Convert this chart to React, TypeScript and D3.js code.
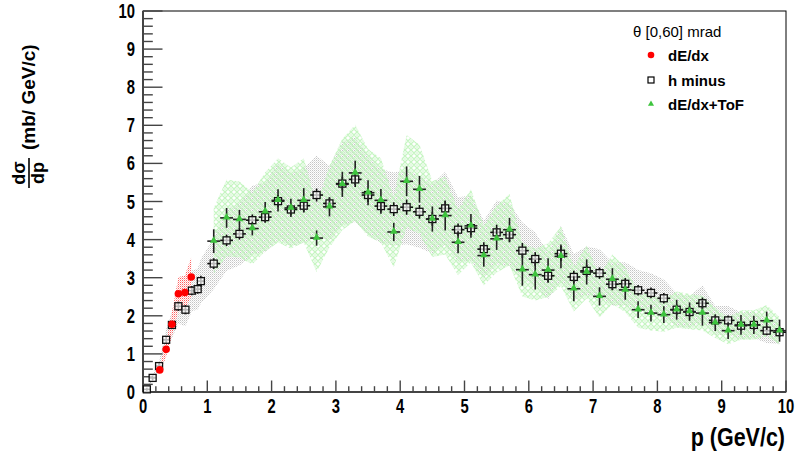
import React from "react";
import * as d3 from "d3";

// h minus (open squares)
const pHm = [0.06, 0.15, 0.25, 0.36, 0.45, 0.55, 0.66, 0.76, 0.85, 0.9,
  1.1, 1.3, 1.5, 1.7, 1.9, 2.1, 2.3, 2.5, 2.7, 2.9, 3.1, 3.3, 3.5, 3.7, 3.9,
  4.1, 4.3, 4.5, 4.7, 4.9, 5.1, 5.3, 5.5, 5.7, 5.9, 6.1, 6.3, 6.5, 6.7, 6.9,
  7.1, 7.3, 7.5, 7.7, 7.9, 8.1, 8.3, 8.5, 8.7, 8.9, 9.1, 9.3, 9.5, 9.7, 9.9];
const hm = [0.07, 0.37, 0.68, 1.37, 1.76, 2.25, 2.16, 2.66, 2.7, 2.91,
  3.37, 3.98, 4.15, 4.51, 4.59, 5.01, 4.79, 4.89, 5.17, 4.95, 5.47, 5.58, 5.17, 4.88, 4.8,
  4.85, 4.73, 4.54, 4.82, 4.26, 4.3, 3.75, 4.19, 4.13, 3.71, 3.49, 3.05, 3.63, 3.02, 3.18,
  3.12, 2.83, 2.84, 2.67, 2.6, 2.46, 2.16, 2.1, 2.33, 1.88, 1.88, 1.74, 1.76, 1.61, 1.57];
const hmErr = [0.04, 0.06, 0.08, 0.1, 0.1, 0.12, 0.12, 0.12, 0.12, 0.14,
  0.14, 0.15, 0.15, 0.15, 0.15, 0.16, 0.15, 0.16, 0.17, 0.16, 0.18, 0.2, 0.18, 0.2, 0.18,
  0.2, 0.18, 0.18, 0.2, 0.16, 0.18, 0.18, 0.2, 0.2, 0.2, 0.18, 0.18, 0.2, 0.16, 0.16,
  0.15, 0.15, 0.15, 0.14, 0.14, 0.14, 0.14, 0.14, 0.15, 0.13, 0.13, 0.13, 0.13, 0.12, 0.12];
const hmSys = 0.2;

// dE/dx (red circles)
const pDedx = [0.26, 0.36, 0.45, 0.55, 0.65, 0.75];
const dedx = [0.58, 1.12, 1.78, 2.58, 2.61, 3.02];
const dedxSys = 0.17;

// dE/dx+ToF (green triangles)
const pTof = [1.1, 1.3, 1.5, 1.7, 1.9, 2.1, 2.3, 2.5, 2.7, 2.9, 3.1, 3.3, 3.5, 3.7, 3.9,
  4.1, 4.3, 4.5, 4.7, 4.9, 5.1, 5.3, 5.5, 5.7, 5.9, 6.1, 6.3, 6.5, 6.7, 6.9,
  7.1, 7.3, 7.5, 7.7, 7.9, 8.1, 8.3, 8.5, 8.7, 8.9, 9.1, 9.3, 9.5, 9.7, 9.9];
const tof = [3.96, 4.57, 4.53, 4.29, 4.73, 5.03, 4.83, 5.03, 4.04, 4.86, 5.45, 5.75, 5.23, 5.03, 4.2,
  5.53, 5.32, 4.54, 4.63, 3.93, 4.36, 3.58, 4.02, 4.26, 3.21, 3.08, 3.2, 3.56, 2.71, 3.15,
  2.51, 2.96, 2.68, 2.16, 2.07, 2.03, 2.16, 2.11, 2.07, 1.82, 1.61, 1.76, 1.76, 1.87, 1.61];
const tofErr = [0.31, 0.26, 0.25, 0.18, 0.26, 0.29, 0.24, 0.32, 0.2, 0.25, 0.33, 0.32, 0.33, 0.3, 0.24,
  0.39, 0.35, 0.33, 0.39, 0.29, 0.31, 0.29, 0.29, 0.31, 0.42, 0.39, 0.31, 0.31, 0.33, 0.33,
  0.24, 0.29, 0.26, 0.22, 0.22, 0.22, 0.26, 0.24, 0.33, 0.22, 0.22, 0.26, 0.24, 0.24, 0.29];
const tofSys = 0.22;

const xTicks = [0, 1, 2, 3, 4, 5, 6, 7, 8, 9, 10];
const yTicks = [0, 1, 2, 3, 4, 5, 6, 7, 8, 9, 10];

const W = 804, H = 468;
const x = d3.scaleLinear().domain([0, 10]).range([143, 786]);
const y = d3.scaleLinear().domain([0, 10]).range([392, 11]);

const FONT = "'Liberation Sans', Arial, Helvetica, sans-serif";

function band(ps: number[], vs: number[], rel: number) {
  const pts = ps.map((p, i) => ({ p, v: vs[i] }));
  const area = d3.area<{ p: number; v: number }>()
    .x(d => x(d.p))
    .y0(d => y(d.v * (1 - rel)))
    .y1(d => y(d.v * (1 + rel)));
  return area(pts) || "";
}

function halfBin(p: number) {
  return p < 1 ? 0.05 : 0.1;
}

export default function App() {
  const xMinor = d3.range(0, 10.001, 0.2);
  const yMinor = d3.range(0, 10.001, 0.2);
  const tri = d3.symbol().type(d3.symbolTriangle).size(26)() || "";
  const triLeg = d3.symbol().type(d3.symbolTriangle).size(16)() || "";
  return (
    <svg width={W} height={H} style={{ position: "absolute", left: 0, top: 0, background: "#fff" }}
      fontFamily={FONT}>
      <defs>
        <pattern id="gray" width="2" height="2" patternUnits="userSpaceOnUse">
          <rect x="0" y="0" width="1" height="1" fill="#c4c4c4" />
          <rect x="1" y="1" width="1" height="1" fill="#e2e2e2" />
        </pattern>
        <pattern id="green" width="6" height="6" patternUnits="userSpaceOnUse">
          <path d="M0,3 L3,0 L6,3 L3,6 Z" stroke="#c6f5c2" strokeWidth="1.3" fill="none" />
          <rect x="2.2" y="2.2" width="1.6" height="1.6" fill="#d6f8d4" />
        </pattern>
        <pattern id="red" width="2" height="2" patternUnits="userSpaceOnUse">
          <rect x="0" y="0" width="1" height="1" fill="#ff6060" />
          <rect x="1" y="1" width="1" height="1" fill="#ffc0c0" />
        </pattern>
      </defs>

      {/* bands */}
      <path d={band(pHm, hm, hmSys)} fill="url(#gray)" />
      <path d={band(pTof, tof, tofSys)} fill="url(#green)" />
      <path d={band(pDedx, dedx, dedxSys)} fill="url(#red)" />

      {/* frame */}
      <rect x={x(0)} y={y(10)} width={x(10) - x(0)} height={y(0) - y(10)} fill="none" stroke="#000" strokeWidth={1} />

      {/* x axis */}
      <line x1={x(0)} x2={x(10)} y1={y(0)} y2={y(0)} stroke="#444" strokeWidth={2} />
      {xMinor.map((t, i) => (
        <line key={"xm" + i} x1={x(t)} x2={x(t)} y1={y(0)} y2={y(0) - (i % 5 === 0 ? 11.5 : 5.8)}
          stroke="#444" strokeWidth={1.4} />
      ))}
      {xTicks.map(t => (
        <g key={"xl" + t} transform={`translate(${x(t)},413) scale(0.74,1)`}>
          <text textAnchor="middle" fontSize={20} fontWeight="bold">{t}</text>
        </g>
      ))}

      {/* y axis */}
      <line x1={x(0)} x2={x(0)} y1={y(0)} y2={y(10)} stroke="#444" strokeWidth={2} />
      {yMinor.map((t, i) => (
        <line key={"ym" + i} x1={x(0)} x2={x(0) + (i % 5 === 0 ? 19.5 : 9.8)} y1={y(t)} y2={y(t)}
          stroke="#444" strokeWidth={1.4} />
      ))}
      {yTicks.map(t => (
        <g key={"yl" + t} transform={`translate(135,${y(t) + 7}) scale(0.74,1)`}>
          <text textAnchor="end" fontSize={20} fontWeight="bold">{t}</text>
        </g>
      ))}

      {/* h minus */}
      {pHm.map((p, i) => (
        <g key={"hm" + i} stroke="#111" strokeWidth={1.6}>
          <line x1={x(p - halfBin(p))} x2={x(p + halfBin(p))} y1={y(hm[i])} y2={y(hm[i])} />
          <line x1={x(p)} x2={x(p)} y1={y(hm[i] - hmErr[i])} y2={y(hm[i] + hmErr[i])} />
          <rect x={x(p) - 3.5} y={y(hm[i]) - 3.5} width={7} height={7} fill="#fff" fillOpacity={0.7} strokeWidth={1.3} />
        </g>
      ))}

      {/* dE/dx+ToF */}
      {pTof.map((p, i) => (
        <g key={"tf" + i}>
          <line x1={x(p - 0.1)} x2={x(p + 0.1)} y1={y(tof[i])} y2={y(tof[i])} stroke="#222" strokeWidth={1.6} />
          <line x1={x(p)} x2={x(p)} y1={y(tof[i] - tofErr[i])} y2={y(tof[i] + tofErr[i])} stroke="#222" strokeWidth={1.6} />
          <path d={tri} transform={`translate(${x(p)},${y(tof[i]) - 0.5})`} fill="#3ec43e" />
        </g>
      ))}

      {/* dE/dx */}
      {pDedx.map((p, i) => (
        <circle key={"dd" + i} cx={x(p)} cy={y(dedx[i])} r={3.8} fill="#ff0000" />
      ))}

      {/* legend */}
      <text x={633} y={37} fontSize={15}>θ [0,60] mrad</text>
      <circle cx={651} cy={55} r={3.3} fill="#ff0000" />
      <text x={668} y={61} fontSize={15} fontWeight="bold">dE/dx</text>
      <rect x={648} y={77} width={6} height={6} fill="none" stroke="#000" strokeWidth={1.2} />
      <text x={668} y={86} fontSize={15} fontWeight="bold">h minus</text>
      <path d={triLeg} transform={`translate(651,104)`} fill="#3ec43e" />
      <text x={668} y={110} fontSize={15} fontWeight="bold">dE/dx+ToF</text>

      {/* x title */}
      <g transform="translate(785,446) scale(0.86,1)">
        <text textAnchor="end" fontSize={25} fontWeight="bold">p (GeV/c)</text>
      </g>

      {/* y title */}
      <g transform="translate(29,192) rotate(-90)" fontWeight="bold">
        <text x={19} y={-4} textAnchor="middle" fontSize={18}>dσ</text>
        <line x1={4} x2={34} y1={0} y2={0} stroke="#000" strokeWidth={1.6} />
        <text x={19} y={15} textAnchor="middle" fontSize={18}>dp</text>
        <text x={42} y={6} fontSize={19}>(mb/ GeV/c)</text>
      </g>
    </svg>
  );
}
